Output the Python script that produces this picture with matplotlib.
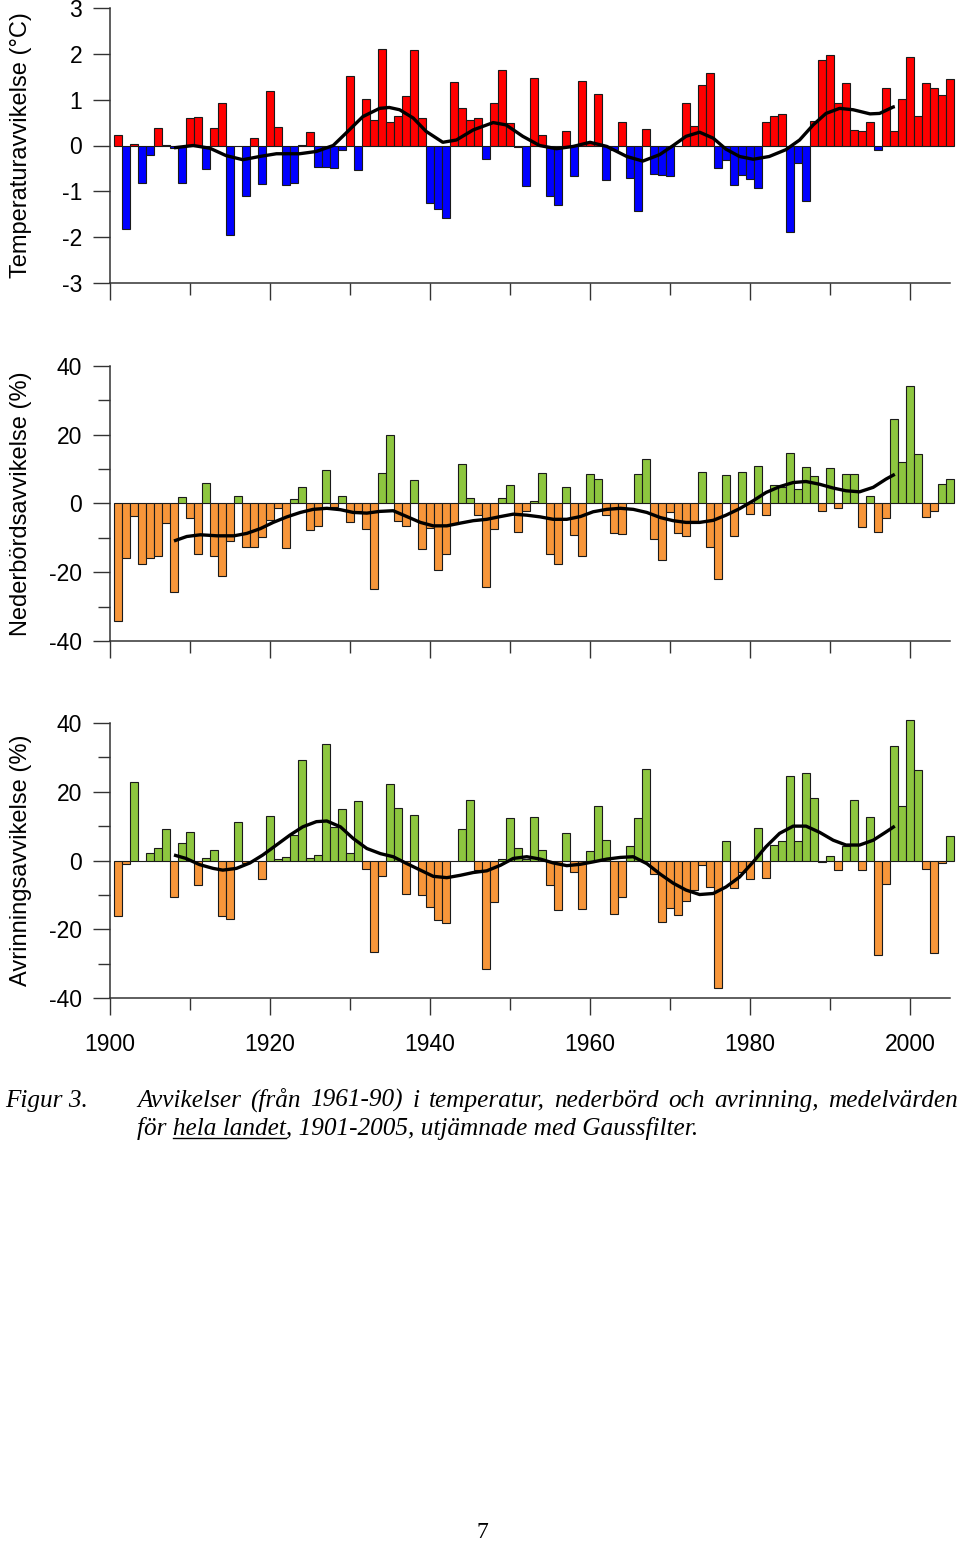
import matplotlib
matplotlib.use("Agg")
import matplotlib.pyplot as plt
import numpy as np
from matplotlib.ticker import MultipleLocator
from matplotlib.lines import Line2D

# Avvikelser 1901-2005 (från 1961-90)
years = np.arange(1901, 2006)

temp = [0.23, -1.82, 0.04, -0.82, -0.21, 0.38, 0.02, -0.05, -0.81, 0.60,
        0.63, -0.52, 0.38, 0.93, -1.96, -0.02, -1.11, 0.17, -0.83, 1.19,
        0.40, -0.86, -0.81, 0.01, 0.30, -0.47, -0.46, -0.50, -0.09, 1.51,
        -0.54, 1.01, 0.55, 2.11, 0.52, 0.65, 1.08, 2.09, 0.60, -1.25,
        -1.39, -1.59, 1.39, 0.82, 0.56, 0.61, -0.30, 0.93, 1.64, 0.49,
        -0.03, -0.89, 1.48, 0.23, -1.10, -1.29, 0.31, -0.66, 1.41, 0.05,
        1.13, -0.76, -0.10, 0.52, -0.70, -1.42, 0.35, -0.63, -0.65, -0.67,
        0.00, 0.92, 0.43, 1.33, 1.58, -0.48, -0.31, -0.87, -0.65, -0.74,
        -0.92, 0.51, 0.65, 0.68, -1.89, -0.38, -1.20, 0.54, 1.87, 1.97,
        0.93, 1.36, 0.33, 0.31, 0.52, -0.10, 1.25, 0.31, 1.01, 1.92,
        0.65, 1.37, 1.26, 1.10, 1.45]

nederbord = [-34.2, -15.9, -3.5, -17.7, -15.9, -15.3, -5.8, -25.8, 1.9, -4.1,
             -14.8, 6.1, -15.2, -21.2, -10.9, 2.2, -12.8, -12.8, -9.7, -4.7,
             -1.4, -13.0, 1.3, 4.9, -7.6, -6.5, 9.7, -1.0, 2.1, -5.4,
             -2.1, -7.3, -25.0, 9.0, 19.9, -5.0, -6.5, 6.9, -13.1, -7.0,
             -19.4, -14.7, -6.0, 11.5, 1.6, -3.3, -24.2, -7.3, 1.7, 5.3,
             -8.3, -2.1, 0.8, 9.0, -14.6, -17.6, 4.7, -9.2, -15.2, 8.7,
             7.1, -3.3, -8.7, -8.9, 0.2, 8.7, 12.9, -10.2, -16.3, -2.4,
             -8.5, -9.4, -5.5, 9.3, -12.8, -21.9, 8.3, -9.6, 9.1, -3.0,
             10.9, -3.4, 5.4, 4.9, 14.6, 4.1, 10.6, 7.9, -2.1, 10.3,
             -1.2, 8.7, 8.5, -6.7, 2.1, -8.2, -4.3, 24.6, 12.1, 34.3,
             14.5, -4.0, -2.1, 5.8, 7.0]

avrinning = [-16.0, -0.9, 22.7, -0.1, 2.3, 3.6, 9.3, -10.7, 5.1, 8.2,
             -7.0, 0.7, 3.2, -16.0, -17.1, 11.2, -0.7, -0.2, -5.3, 12.9,
             0.4, 0.9, 7.4, 29.1, 0.6, 1.6, 34.0, 9.8, 14.9, 2.2,
             17.4, -2.5, -26.5, -4.6, 22.3, 15.3, -9.6, 13.2, -9.9, -13.4,
             -17.2, -18.3, -0.2, 9.3, 17.6, -2.8, -31.6, -12.0, 0.3, 12.5,
             3.7, 0.5, 12.6, 3.1, -7.0, -14.3, 7.9, -3.3, -14.2, 2.7,
             15.9, 6.1, -15.6, -10.6, 4.1, 12.4, 26.5, -3.8, -18.0, -13.7,
             -15.9, -11.7, -8.7, -1.2, -7.6, -37.0, 5.7, -7.9, -3.4, -5.5,
             9.6, -5.1, 4.6, 5.6, 24.7, 5.6, 25.5, 18.2, -0.4, 1.2,
             -2.8, 4.2, 17.5, -2.8, 12.6, -27.6, -6.8, 33.2, 15.9, 40.8,
             26.4, -2.5, -26.9, -0.7, 7.2]

# Gaussfiltrerade kurvor (avlästa)
temp_g_x = [1908.0, 1910.4, 1912.5, 1914.5, 1916.6, 1918.7, 1920.8, 1923.7, 1925.8, 1927.9,
            1929.5, 1931.6, 1933.7, 1934.9, 1936.2, 1937.9, 1939.5, 1941.6, 1943.3, 1945.4,
            1947.9, 1949.5, 1951.6, 1953.7, 1955.8, 1957.9, 1960.0, 1962.1, 1964.6, 1966.6,
            1968.7, 1970.4, 1972.0, 1973.7, 1975.4, 1977.0, 1978.7, 1980.4, 1982.4, 1984.5,
            1986.2, 1987.9, 1989.5, 1991.2, 1992.9, 1995.0, 1996.2, 1997.9, 1998.1]
temp_g_y = [-0.05, 0.00, -0.06, -0.22, -0.31, -0.24, -0.18, -0.18, -0.13, 0.00,
            0.27, 0.63, 0.81, 0.83, 0.78, 0.60, 0.31, 0.07, 0.12, 0.34,
            0.50, 0.45, 0.20, 0.00, -0.07, -0.02, 0.07, -0.02, -0.24, -0.34,
            -0.20, 0.00, 0.20, 0.29, 0.16, -0.08, -0.24, -0.30, -0.24, -0.09,
            0.12, 0.45, 0.70, 0.81, 0.78, 0.69, 0.70, 0.84, 0.85]

ned_g_x = [1908.0, 1909.6, 1911.3, 1913.4, 1915.5, 1917.1, 1918.8, 1920.4, 1922.1, 1923.8,
           1925.4, 1927.1, 1928.8, 1930.4, 1932.1, 1933.7, 1935.4, 1937.1, 1938.8, 1940.4,
           1942.1, 1943.8, 1945.4, 1947.1, 1948.8, 1950.4, 1952.1, 1953.8, 1955.4, 1957.1,
           1958.8, 1960.4, 1962.1, 1963.8, 1965.4, 1967.1, 1968.8, 1970.4, 1972.0, 1973.7,
           1975.4, 1977.0, 1978.7, 1980.4, 1982.0, 1983.7, 1985.4, 1987.0, 1988.7, 1990.4,
           1992.0, 1993.7, 1995.4, 1997.0, 1998.1]
ned_g_y = [-10.9, -9.6, -9.1, -9.4, -9.4, -8.7, -7.3, -5.5, -3.9, -2.6,
           -1.7, -1.4, -1.8, -2.6, -2.8, -2.3, -2.1, -3.8, -5.5, -6.5,
           -6.5, -5.7, -5.0, -4.6, -3.8, -3.1, -3.4, -3.9, -4.6, -4.6,
           -3.8, -2.4, -1.7, -1.4, -1.7, -2.6, -4.1, -5.0, -5.5, -5.5,
           -4.9, -3.4, -1.5, 0.8, 3.2, 4.9, 6.1, 6.4, 5.6, 4.5,
           3.7, 3.4, 4.7, 7.1, 8.5]

avr_g_x = [1908.0, 1909.5, 1911.2, 1912.9, 1914.1, 1915.8, 1917.5, 1919.1, 1920.8, 1922.5,
           1924.1, 1925.8, 1927.1, 1928.8, 1930.4, 1932.1, 1933.8, 1935.4, 1937.1, 1938.8,
           1940.4, 1942.1, 1943.8, 1945.4, 1947.1, 1948.8, 1950.4, 1952.1, 1953.8, 1955.4,
           1957.1, 1958.8, 1960.4, 1962.1, 1963.8, 1965.4, 1967.1, 1968.8, 1970.4, 1972.0,
           1973.7, 1975.4, 1977.0, 1978.7, 1980.4, 1982.0, 1983.7, 1985.4, 1987.0, 1988.7,
           1990.4, 1992.0, 1993.7, 1995.4, 1997.0, 1998.1]
avr_g_y = [1.6, 0.6, -1.2, -2.3, -2.8, -2.3, -0.7, 1.6, 4.5, 7.4,
           9.8, 11.3, 11.5, 9.8, 6.4, 3.5, 2.0, 1.1, -0.9, -2.8,
           -4.6, -5.0, -4.3, -3.5, -3.0, -1.4, 0.6, 1.1, 0.4, -0.7,
           -1.5, -1.1, -0.4, 0.4, 0.9, 1.1, -0.9, -4.0, -6.6, -8.6,
           -9.9, -9.6, -7.7, -4.8, -0.4, 4.0, 7.9, 10.0, 10.0, 8.2,
           5.9, 4.5, 4.5, 5.9, 8.3, 10.0]

caption1 = "Avvikelser (från 1961-90) i temperatur, nederbörd och avrinning, medelvärden"
caption2_pre = "för "
caption2_ul = "hela landet"
caption2_post = ", 1901-2005, utjämnade med Gaussfilter."

plt.rcParams["font.family"] = ["Liberation Sans", "DejaVu Sans"]

W, H = 960, 1543
fig = plt.figure(figsize=(W / 100, H / 100), dpi=100)


def box(left, top, right, bottom):
    return [left / W, 1 - bottom / H, (right - left) / W, (bottom - top) / H]


def panel(rect, vals, gx, gy, pos_col, neg_col, ylim, ymaj, ymin, label, show_x):
    ax = fig.add_axes(rect)
    cols = [pos_col if v >= 0 else neg_col for v in vals]
    ax.bar(years, vals, width=1.0, color=cols, edgecolor="#1a1a1a",
           linewidth=0.8, clip_on=False, zorder=2)
    ax.plot(gx, gy, color="black", lw=2.4, solid_capstyle="butt",
            solid_joinstyle="round", zorder=3)
    ax.set_xlim(1900, 2005)
    ax.set_ylim(*ylim)
    for s in ["top", "right"]:
        ax.spines[s].set_visible(False)
    for s in ["left", "bottom"]:
        ax.spines[s].set_color("#333333")
        ax.spines[s].set_linewidth(1.1)
    ax.xaxis.set_major_locator(MultipleLocator(20))
    ax.xaxis.set_minor_locator(MultipleLocator(10))
    ax.yaxis.set_major_locator(MultipleLocator(ymaj))
    if ymin:
        ax.yaxis.set_minor_locator(MultipleLocator(ymin))
    ax.tick_params(axis="both", which="major", length=12, width=1.0,
                   color="#333333", labelsize=16.5, pad=8)
    ax.tick_params(axis="both", which="minor", length=8.5, width=1.0,
                   color="#333333")
    ax.tick_params(axis="x", which="major", pad=13, labelbottom=show_x)
    ax.yaxis.set_major_formatter(matplotlib.ticker.FuncFormatter(lambda v, p: f"{v:g}"))
    cy = rect[1] + rect[3] / 2
    fig.text(21 / W, cy, label, rotation=90, ha="center", va="center",
             fontsize=17)
    return ax


red, blue = "#ff0000", "#0000ff"
green, orange = "#8dc63f", "#f7963a"

panel(box(110, 8, 950, 283), temp, temp_g_x, temp_g_y, red, blue,
      (-3, 3), 1, None, "Temperaturavvikelse (°C)", False)
panel(box(110, 366, 950, 641), nederbord, ned_g_x, ned_g_y, green, orange,
      (-40, 40), 20, 10, "Nederbördsavvikelse (%)", False)
panel(box(110, 723, 950, 998), avrinning, avr_g_x, avr_g_y, green, orange,
      (-40, 40), 20, 10, "Avrinningsavvikelse (%)", True)

# Figurtext
serif = ["Liberation Serif", "DejaVu Serif"]
cs = dict(family=serif, style="italic", fontsize=18.2, va="baseline")
y1 = 1 - 1107 / H
y2 = 1 - 1135 / H
r = fig.canvas.get_renderer()


def width_px(s):
    t = fig.text(0, 0, s, **cs)
    w = t.get_window_extent(r).width
    t.remove()
    return w


fig.text(5 / W, y1, "Figur 3.", **cs)

# rad 1 utjämnad (marginaljusterad) mellan x=137 och x=958
words = caption1.split(" ")
ww = [width_px(w) for w in words]
gap = (958 - 137 - sum(ww)) / (len(words) - 1)
x = 137.0
for w, wpx in zip(words, ww):
    fig.text(x / W, y1, w, **cs)
    x += wpx + gap

fig.text(137 / W, y2, caption2_pre + caption2_ul + caption2_post, **cs)
x_end = 137 + width_px(caption2_pre + caption2_ul)
x_start = x_end - width_px(caption2_ul)
uy = y2 - 3 / H
fig.add_artist(Line2D([x_start / W, x_end / W], [uy, uy], color="black", lw=1.0))

fig.text(482 / W, 1 - 1538 / H, "7", family=serif, fontsize=17, ha="center",
         va="baseline")

fig.savefig("out.png", dpi=100)
